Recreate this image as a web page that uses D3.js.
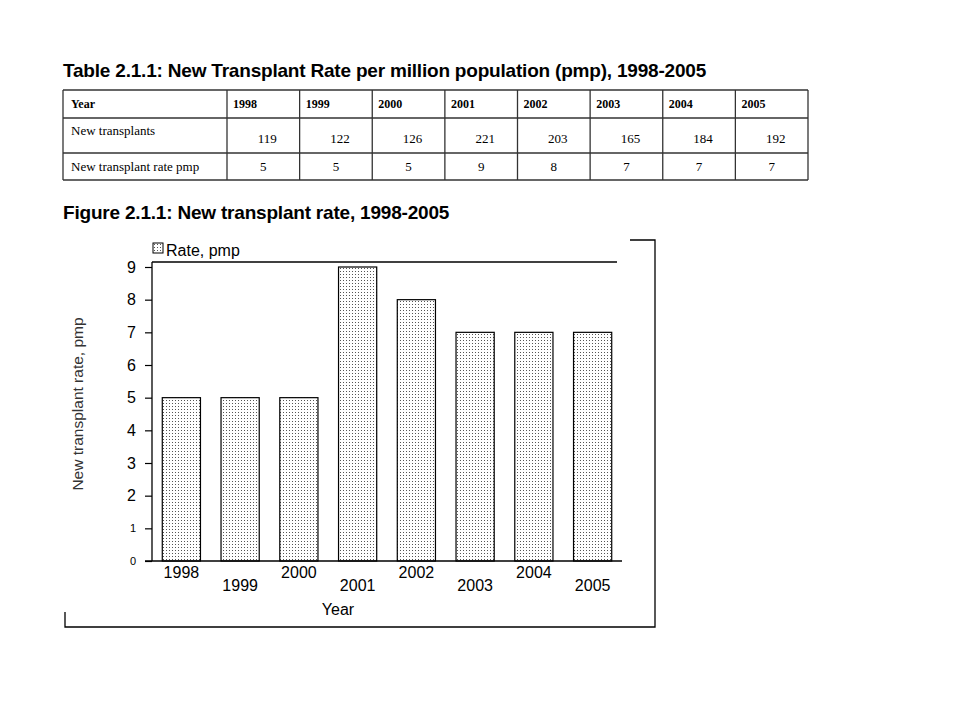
<!DOCTYPE html>
<html>
<head>
<meta charset="utf-8">
<script src="https://cdn.jsdelivr.net/npm/d3@7"></script>
<style>
  html, body { margin: 0; padding: 0; background: #fff; }
  svg { display: block; }
</style>
</head>
<body>
<div id="chart"></div>
<script>
// ---- data ----
const years = ["1998", "1999", "2000", "2001", "2002", "2003", "2004", "2005"];
const newTransplants = [119, 122, 126, 221, 203, 165, 184, 192];
const ratePmp = [5, 5, 5, 9, 8, 7, 7, 7];
const rowLabels = ["Year", "New transplants", "New transplant rate pmp"];
const yTickValues = [0, 1, 2, 3, 4, 5, 6, 7, 8, 9];
const seriesName = "Rate, pmp";
const tableTitle = "Table 2.1.1: New Transplant Rate per million population (pmp), 1998-2005";
const figureTitle = "Figure 2.1.1: New transplant rate, 1998-2005";
const xAxisTitle = "Year";
const yAxisTitle = "New transplant rate, pmp";

const W = 960, H = 720;
const svg = d3.select("#chart").append("svg").attr("width", W).attr("height", H);

const defs = svg.append("defs");
const pat = defs.append("pattern").attr("id", "dots").attr("patternUnits", "userSpaceOnUse")
  .attr("width", 3).attr("height", 3);
pat.append("rect").attr("width", 3).attr("height", 3).attr("fill", "#fff");
pat.append("rect").attr("x", 1).attr("y", 1).attr("width", 1).attr("height", 1).attr("fill", "#555");

const sans = "Liberation Sans, Arial, sans-serif";

// ---- titles ----
svg.append("text").attr("x", 63).attr("y", 77)
  .attr("font-family", sans).attr("font-weight", "bold")
  .attr("font-size", 19).attr("letter-spacing", -0.2).attr("fill", "#000").text(tableTitle);
svg.append("text").attr("x", 63).attr("y", 219)
  .attr("font-family", sans).attr("font-weight", "bold")
  .attr("font-size", 19).attr("letter-spacing", -0.2).attr("fill", "#000").text(figureTitle);

// ---- table ----
const tX0 = 63, tX1 = 227, tXEnd = 808;
const rowY = [90, 118, 153, 180];
const colX = d3.scaleBand().domain(years).range([tX1, tXEnd]);
const tbl = svg.append("g").attr("font-family", "Liberation Serif, Times New Roman, serif").attr("font-size", 13).attr("fill", "#000");
const lineColor = "#333";
rowY.forEach(y => tbl.append("line").attr("x1", tX0).attr("x2", tXEnd).attr("y1", y).attr("y2", y)
  .attr("stroke", lineColor).attr("stroke-width", 1.3));
[tX0, ...years.map(y => colX(y)), tXEnd].forEach(x => tbl.append("line").attr("x1", x).attr("x2", x)
  .attr("y1", rowY[0]).attr("y2", rowY[3]).attr("stroke", lineColor).attr("stroke-width", 1.3));
tbl.append("text").attr("x", tX0 + 8).attr("y", 108).attr("font-weight", "bold").attr("font-size", 12).text(rowLabels[0]);
tbl.append("text").attr("x", tX0 + 8).attr("y", 135).text(rowLabels[1]);
tbl.append("text").attr("x", tX0 + 8).attr("y", 171).text(rowLabels[2]);
years.forEach((yr, i) => {
  tbl.append("text").attr("x", colX(yr) + 6).attr("y", 108).attr("font-weight", "bold").attr("font-size", 12).text(yr);
  tbl.append("text").attr("x", colX(yr) + colX.bandwidth() / 2 + 4).attr("y", 143).attr("text-anchor", "middle").text(newTransplants[i]);
  tbl.append("text").attr("x", colX(yr) + colX.bandwidth() / 2).attr("y", 171).attr("text-anchor", "middle").text(ratePmp[i]);
});

// ---- chart ----
const plotL = 152, plotR = 622, plotT = 262, plotB = 561;
const x = d3.scaleBand().domain(years).range([plotL, plotR]).paddingInner(0.35).paddingOuter(0.175);
const y = d3.scaleLinear().domain([0, 9]).range([plotB, 267]);

const g = svg.append("g").attr("font-family", sans);

g.append("path").attr("d", `M630,240 H655 V627 H65 V612`).attr("fill", "none").attr("stroke", "#000").attr("stroke-width", 1.3);

g.append("line").attr("x1", plotL).attr("x2", 617).attr("y1", plotT).attr("y2", plotT)
  .attr("stroke", "#000").attr("stroke-width", 1.3);

g.selectAll("rect.bar").data(years).enter().append("rect").attr("class", "bar")
  .attr("x", d => x(d)).attr("width", x.bandwidth())
  .attr("y", (d, i) => y(ratePmp[i])).attr("height", (d, i) => y(0) - y(ratePmp[i]))
  .attr("fill", "url(#dots)").attr("stroke", "#000").attr("stroke-width", 1.2);

const yAxis = d3.axisLeft(y).tickValues(yTickValues).tickSize(7).tickSizeOuter(0).tickPadding(9);
const ya = g.append("g").attr("transform", `translate(${plotL},0)`).call(yAxis);
ya.select(".domain").attr("stroke", "#000").attr("stroke-width", 1.3).attr("d", `M0,${plotT}V${plotB}`);
ya.selectAll(".tick line").attr("stroke", "#000").attr("stroke-width", 1.2);
ya.selectAll(".tick text").attr("font-family", sans)
  .attr("font-size", d => d <= 1 ? 11 : 16).attr("fill", "#000");

g.append("line").attr("x1", 145).attr("x2", plotR).attr("y1", plotB).attr("y2", plotB)
  .attr("stroke", "#000").attr("stroke-width", 1.3);
g.selectAll("text.xl").data(years).enter().append("text").attr("class", "xl")
  .attr("x", d => x(d) + x.bandwidth() / 2)
  .attr("y", (d, i) => i % 2 === 0 ? 578 : 591)
  .attr("text-anchor", "middle").attr("font-size", 16).attr("fill", "#000").text(d => d);

g.append("rect").attr("x", 153).attr("y", 243).attr("width", 10).attr("height", 10)
  .attr("fill", "url(#dots)").attr("stroke", "#000").attr("stroke-width", 1);
g.append("text").attr("x", 166).attr("y", 256).attr("font-size", 16).attr("fill", "#000").text(seriesName);

g.append("text").attr("x", 338).attr("y", 615).attr("text-anchor", "middle").attr("font-size", 16).attr("fill", "#000").text(xAxisTitle);
g.append("text").attr("transform", `translate(83,404) rotate(-90)`).attr("text-anchor", "middle")
  .attr("font-size", 15.5).attr("fill", "#333").text(yAxisTitle);
</script>
</body>
</html>
